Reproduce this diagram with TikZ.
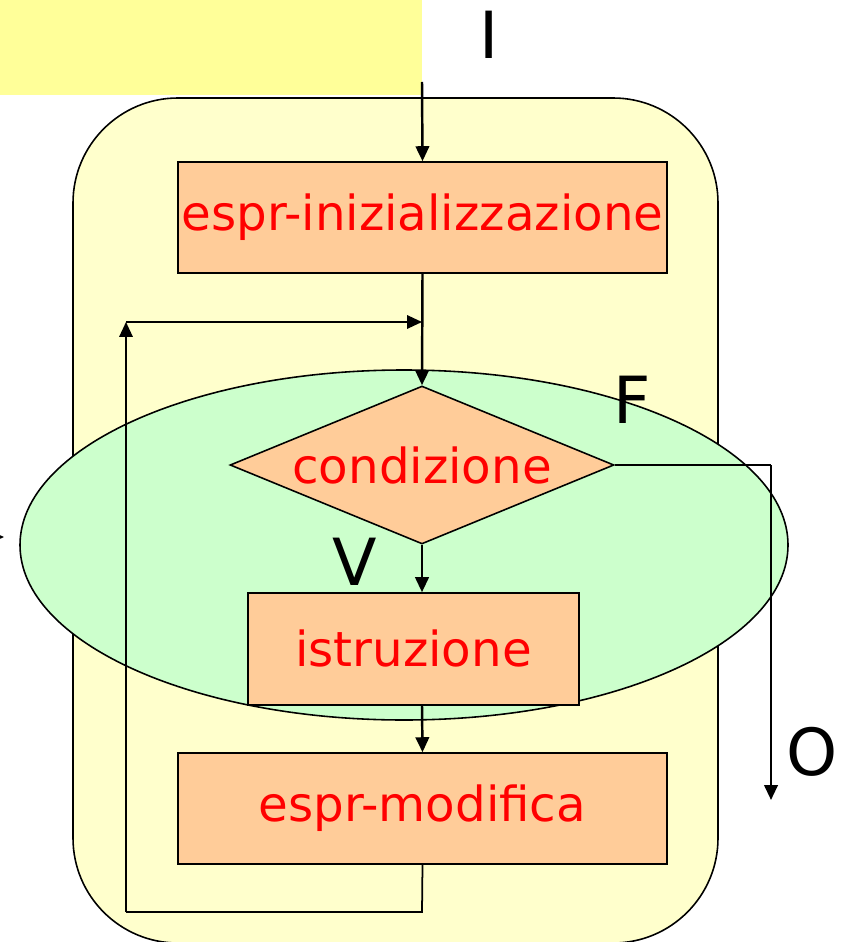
\documentclass[tikz,border=0pt]{standalone}
\usepackage{xcolor}
\usepackage{fontspec}
\setmainfont{DejaVu Sans}
\usepackage{tikz}
\usetikzlibrary{shapes.geometric,arrows.meta}
\definecolor{giallo}{HTML}{FFFF99}
\definecolor{crema}{HTML}{FFFFCC}
\definecolor{verdino}{HTML}{CCFFCC}
\definecolor{pesca}{HTML}{FFCC99}

\begin{document}
\begin{tikzpicture}[x=0.02cm,y=-0.02cm,
  blocco/.style={draw,line width=0.9pt,fill=pesca,text=red,inner sep=0pt,
    font=\fontsize{27.5}{30}\selectfont},
  freccia/.style={line width=1.4pt,-{Triangle[length=0.3cm,width=0.27cm]}},
  linea/.style={line width=1pt},
  etich/.style={font=\fontsize{37}{40}\selectfont}]
\useasboundingbox (0,0) rectangle (845,942);
% sfondo
\fill[giallo] (0,0) rectangle (422,95);
\draw[line width=0.9pt,fill=crema,rounded corners=2.1cm] (73,98) rectangle (718,943);
\draw[line width=0.9pt,fill=verdino] (404,545) ellipse (384 and 175);
% blocchi
\node[blocco,minimum width=9.78cm,minimum height=2.22cm] (init) at (422.5,217.5) {espr-inizializzazione};
\node[blocco,shape=diamond,minimum width=7.68cm,minimum height=3.16cm,aspect=2.43] (cond) at (422,465) {\raisebox{-0.15cm}{condizione}};
\node[blocco,minimum width=6.62cm,minimum height=2.24cm] (istr) at (413.5,649) {\raisebox{0.05cm}{istruzione}};
\node[blocco,minimum width=9.78cm,minimum height=2.22cm] (mod) at (422.5,808.5) {espr-modifica};
% etichette
\node[etich] (lI) at (489,35) {I};
\node[etich] (lF) at (632,400) {F};
\node[etich] (lV) at (355,562) {V};
\node[etich] (lO) at (812,752) {O};
% collegamenti
\coordinate (ingr) at (422,82);
\coordinate (giu) at (422,912);
\coordinate (sx) at (126,912);
\coordinate (su) at (126,322);
\coordinate (rientro) at (422,322);
\coordinate (dx) at (771,465);
\coordinate (usc) at (771,800);
\coordinate (fuori) at (-20,537);
\coordinate (bordo) at (4,537);
\draw[freccia] (ingr) -- (init.north);
\draw[freccia] (init.south) -- (cond.north);
\draw[freccia] (cond.south) -- (istr.north -| cond.south);
\draw[freccia] (istr.south -| cond.south) -- (mod.north);
\draw[linea] (mod.south) -- (giu) -- (sx);
\draw[linea,-{Triangle[length=0.3cm,width=0.27cm]}] (sx) -- (su);
\draw[linea,-{Triangle[length=0.3cm,width=0.27cm]}] (su) -- (rientro);
\draw[linea] (cond.east) -- (dx);
\draw[freccia] (dx) -- (usc);
\draw[freccia] (fuori) -- (bordo);
\end{tikzpicture}
\end{document}
